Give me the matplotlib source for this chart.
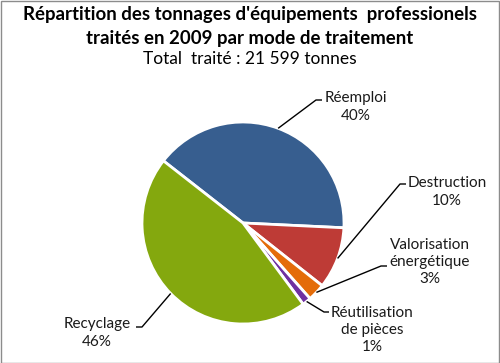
import numpy as np
import matplotlib
matplotlib.use("Agg")
from matplotlib import pyplot as plt
from matplotlib.patches import Rectangle

# ---DATA---
categories = ["Réemploi", "Destruction", "Valorisation\nénergétique",
              "Réutilisation\nde pièces", "Recyclage"]
shares = [40.2, 9.9, 2.8, 1.4, 45.7]   # % of tonnage, estimated from wedges
colors = ["#375E8F", "#BE3B36", "#E46C0A", "#7030A0", "#84A80E"]

title = "Répartition des tonnages d'équipements  professionels\ntraités en 2009 par mode de traitement"
subtitle = "Total  traité : 21 599 tonnes"

# label layout, in pixel coords (y measured from top): elbow, end, text centre
elbows = [(316, 100), (400, 184), (381, 266), (324, 312), (142, 327)]
ends = [(322, 100), (406, 184), (387, 266), (329, 312), (136, 327)]
text_pos = [(356, 107), (447, 192), (430, 262), (372, 330), (97, 333)]

W, H = 500, 363
fig = plt.figure(figsize=(5, 3.63), dpi=100)
ax = fig.add_axes([0, 0, 1, 1])

cx, cy, r = 243, H - 223, 101
wedges, _ = ax.pie(shares, colors=colors, startangle=142, counterclock=False,
                   center=(cx, cy), radius=r, frame=True,
                   wedgeprops=dict(edgecolor="white", linewidth=2))
ax.set_xlim(0, W)
ax.set_ylim(0, H)
ax.set_aspect("equal")
ax.axis("off")

for w, lab, pct, el, en, tp in zip(wedges, categories, shares, elbows, ends, text_pos):
    mid = np.deg2rad((w.theta1 + w.theta2) / 2)
    x0 = cx + r * np.cos(mid)
    y0 = cy + r * np.sin(mid)
    ax.plot([x0, el[0], en[0]], [y0, H - el[1], H - en[1]],
            color="black", lw=1, solid_capstyle="butt")
    ax.text(tp[0], H - tp[1], f"{lab}\n{round(pct)}%", ha="center", va="center",
            fontsize=11, family="Lato", color="#1a1a1a", linespacing=1.3)

ax.text(W / 2, H - 26.5, title, ha="center", va="center", fontsize=13.4,
        fontweight="bold", family="Lato", linespacing=1.45)
ax.text(W / 2, H - 59, subtitle, ha="center", va="center", fontsize=12.5,
        family="Lato")

fig.patches.append(Rectangle((0.5 / W, 0.5 / H), 1 - 1.5 / W, 1 - 1.5 / H,
                             transform=fig.transFigure, fill=False,
                             edgecolor="#8c8c8c", lw=1))

fig.savefig("out.png", dpi=100)
